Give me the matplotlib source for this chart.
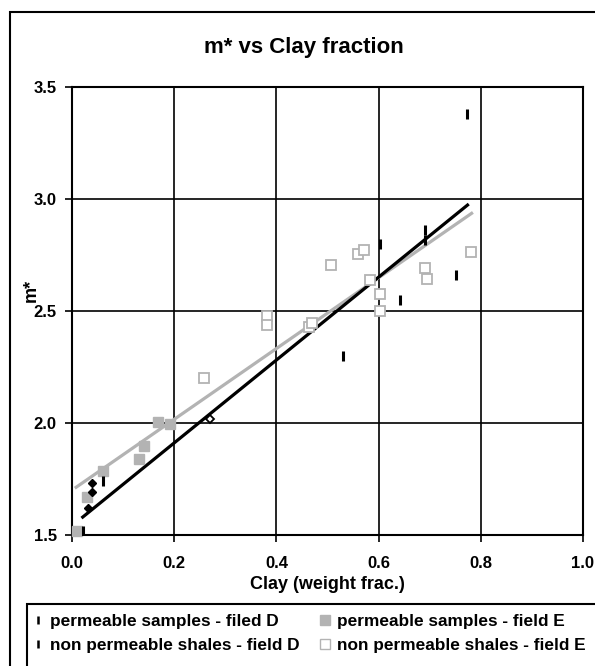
import matplotlib
matplotlib.use("Agg")
import matplotlib.pyplot as plt
from matplotlib.lines import Line2D
from matplotlib.patches import Rectangle

plt.rcParams['font.family'] = ['Liberation Sans', 'DejaVu Sans']
plt.rcParams['font.weight'] = 'bold'

# permeable samples - field D (black diamonds)
perm_d_x = [0.032, 0.039, 0.040]
perm_d_y = [1.619, 1.693, 1.731]
# one field D sample drawn hollow
perm_d_open_x = [0.271]
perm_d_open_y = [2.017]

# non permeable shales - field D (dash markers)
shale_d_x = [0.022, 0.060, 0.531, 0.602, 0.641, 0.690, 0.690, 0.751, 0.773]
shale_d_y = [1.52, 1.74, 2.30, 2.80, 2.549, 2.815, 2.86, 2.66, 3.38]

# permeable samples - field E (grey filled squares)
perm_e_x = [0.010, 0.029, 0.060, 0.132, 0.141, 0.169, 0.192]
perm_e_y = [1.52, 1.671, 1.787, 1.84, 1.899, 2.003, 1.994]

# non permeable shales - field E (grey open squares)
shale_e_x = [0.259, 0.382, 0.382, 0.463, 0.470, 0.507, 0.559, 0.571,
             0.584, 0.603, 0.603, 0.690, 0.694, 0.780]
shale_e_y = [2.20, 2.478, 2.4375, 2.43, 2.445, 2.705, 2.754, 2.772,
             2.638, 2.576, 2.50, 2.69, 2.644, 2.765]

# linear trendlines (end points)
trend_d_x = [0.021, 0.774]
trend_d_y = [1.58, 2.973]
trend_e_x = [0.008, 0.782]
trend_e_y = [1.713, 2.936]

xticks = [0.0, 0.2, 0.4, 0.6, 0.8, 1.0]
yticks = [1.5, 2.0, 2.5, 3.0, 3.5]

grey = '#b3b3b3'

fig = plt.figure(figsize=(5.95, 6.66), dpi=100)
ax = fig.add_axes([72/595, 1-535/666, (583-72)/595, (535-87)/666])

ax.set_xlim(0, 1.0)
ax.set_ylim(1.5, 3.5)
ax.set_xticks(xticks)
ax.set_yticks(yticks)
ax.set_xticklabels(['%.1f' % t for t in xticks])
ax.set_yticklabels(['%.1f' % t for t in yticks])
ax.grid(True, color='black', lw=1.2)
ax.set_axisbelow(True)
for s in ax.spines.values():
    s.set_linewidth(1.5)
ax.tick_params(direction='out', length=5, width=1.2, labelsize=12, pad=6)
ax.tick_params(axis='x', pad=10)

ax.plot(trend_e_x, trend_e_y, color=grey, lw=2.3, zorder=3)
ax.plot(trend_d_x, trend_d_y, color='black', lw=2.3, zorder=3)

ax.plot(shale_e_x, shale_e_y, 's', ms=6.5, mfc='white', mec=grey, mew=1.3,
        ls='none', zorder=4)
ax.plot(perm_e_x, perm_e_y, 's', ms=7.5, mfc=grey, mec=grey, ls='none',
        zorder=4, clip_on=False)
ax.plot(shale_d_x, shale_d_y, '|', ms=7.5, mec='black', mew=2.2, ls='none',
        zorder=5)
ax.plot(perm_d_x, perm_d_y, 'D', ms=4.5, mfc='black', mec='black', ls='none',
        zorder=5)
ax.plot(perm_d_open_x, perm_d_open_y, 'D', ms=4.5, mfc='white', mec='black',
        mew=1.3, ls='none', zorder=5)

fig.text(304/595, 1-47/666, 'm* vs Clay fraction', ha='center', va='center',
         fontsize=16, fontweight='bold')
ax.set_xlabel('Clay (weight frac.)', fontsize=13, fontweight='bold', labelpad=4)
ax.set_ylabel('m*', fontsize=13, fontweight='bold')
ax.yaxis.set_label_coords(-0.063, 0.547)

# outer chart frame
fig.patches.append(Rectangle((10/595, -0.05), 1.0, 1-12/666+0.05,
                             transform=fig.transFigure, fill=False,
                             ec='black', lw=1.5))
# legend frame
fig.patches.append(Rectangle((27/595, -0.05), 1.0, 1-604/666+0.05,
                             transform=fig.transFigure, fill=False,
                             ec='black', lw=1.5))

handles = [
    Line2D([], [], marker='|', ls='none', color='black', ms=6, mew=1.8),
    Line2D([], [], marker='|', ls='none', color='black', ms=6, mew=1.8),
    Line2D([], [], marker='s', ls='none', mfc=grey, mec=grey, ms=6.5),
    Line2D([], [], marker='s', ls='none', mfc='white', mec=grey, ms=6.5, mew=1),
]
labels = ['permeable samples - filed D', 'non permeable shales - field D',
          'permeable samples - field E', 'non permeable shales - field E']
fig.legend(handles, labels, loc='upper left', ncol=2, frameon=False,
           bbox_to_anchor=(33/595, 1-614/666), handlelength=0.6,
           handletextpad=0.4, columnspacing=1.15, labelspacing=0.5,
           prop={'weight': 'bold', 'size': 12.4}, borderaxespad=0, borderpad=0)

fig.savefig('out.png', dpi=100)
